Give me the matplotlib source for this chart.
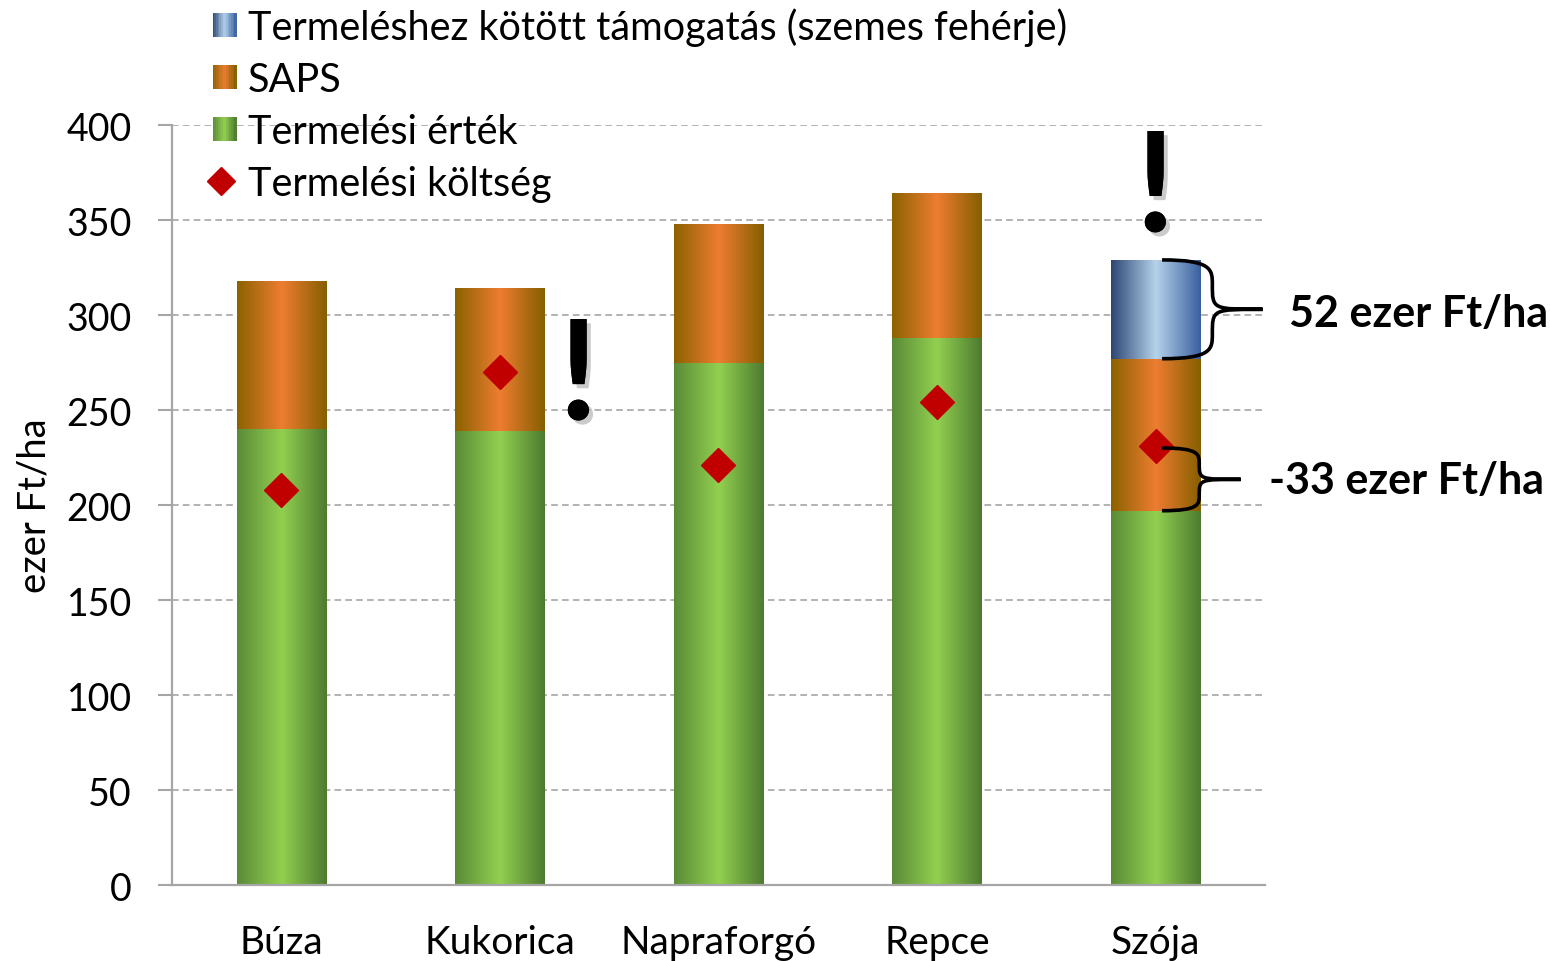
import matplotlib.pyplot as plt
import numpy as np
from matplotlib.colors import LinearSegmentedColormap
from matplotlib.patches import Rectangle, PathPatch
from matplotlib.path import Path
from matplotlib.legend_handler import HandlerBase
from matplotlib.lines import Line2D
import matplotlib.patheffects as pe

plt.rcParams['font.family'] = ['Lato', 'DejaVu Sans']

categories = ['Búza', 'Kukorica', 'Napraforgó', 'Repce', 'Szója']
termelesi_ertek = [240, 239, 275, 288, 197]
saps = [78, 75, 73, 76, 80]
kotott_tamogatas = [0, 0, 0, 0, 52]
termelesi_koltseg = [208, 270, 221, 254, 231]

label_blue = 'Termeléshez kötött támogatás (szemes fehérje)'
label_orange = 'SAPS'
label_green = 'Termelési érték'
label_cost = 'Termelési költség'

# gradient colours: edge, centre, edge
grad_green = ['#5a8a38', '#92d050', '#4d7a30']
grad_orange = ['#8c6200', '#ed7d31', '#855f00']
grad_blue = ['#2c4674', '#b5d2ea', '#3a5f9f']


def make_cmap(cols):
    return LinearSegmentedColormap.from_list('g', [(0, cols[0]), (0.5, cols[1]), (1, cols[2])])


def gradient_bar(ax, x, bottom, height, width, cols):
    if height <= 0:
        return
    rect = Rectangle((x - width / 2, bottom), width, height, facecolor='none', edgecolor='none')
    ax.add_patch(rect)
    grad = np.linspace(0, 1, 256).reshape(1, -1)
    im = ax.imshow(grad, cmap=make_cmap(cols), aspect='auto',
                   extent=(x - width / 2, x + width / 2, bottom, bottom + height),
                   interpolation='bicubic', zorder=2)
    im.set_clip_path(rect)


class GradHandler(HandlerBase):
    def __init__(self, cols):
        super().__init__()
        self.cols = cols

    def create_artists(self, legend, orig_handle, xdescent, ydescent, width, height, fontsize, trans):
        cmap = make_cmap(self.cols)
        size = height * 0.85
        x0 = width - size
        y0 = (height - size) / 2 - ydescent
        n = 14
        arts = []
        for i in range(n):
            r = Rectangle((x0 + i * size / n, y0), size / n + 0.3, size,
                          facecolor=cmap((i + 0.5) / n), edgecolor='none', transform=trans)
            arts.append(r)
        return arts


fig = plt.figure(figsize=(15.5, 9.62), dpi=100)
ax = fig.add_axes([0.111, 0.079, 0.705, 0.790])

x = np.arange(len(categories))
w = 0.41
ax.set_xlim(-0.5, len(categories) - 0.5)
ax.set_ylim(0, 400)

for i in range(len(categories)):
    gradient_bar(ax, x[i], 0, termelesi_ertek[i], w, grad_green)
    gradient_bar(ax, x[i], termelesi_ertek[i], saps[i], w, grad_orange)
    gradient_bar(ax, x[i], termelesi_ertek[i] + saps[i], kotott_tamogatas[i], w, grad_blue)

ax.plot(x, termelesi_koltseg, linestyle='none', marker='D', markersize=17,
        color='#c00000', zorder=5)

ax.set_yticks(np.arange(0, 401, 50))
ax.yaxis.grid(True, linestyle=(0, (4, 2.5)), color='#a6a6a6', linewidth=1.2)
ax.set_axisbelow(True)
ax.set_xticks(x)
ax.set_xticklabels(categories, fontsize=28)
ax.tick_params(axis='x', length=0, pad=28)
ax.tick_params(axis='y', labelsize=27, length=10, color='#a6a6a6', width=1.5, pad=19)
for s in ['top', 'right']:
    ax.spines[s].set_visible(False)
for s in ['left', 'bottom']:
    ax.spines[s].set_color('#a6a6a6')
    ax.spines[s].set_linewidth(1.6)
ax.set_ylabel('ezer Ft/ha', fontsize=27.5, labelpad=10)

# exclamation marks
shadow = [pe.withSimplePatchShadow(offset=(3, -3), shadow_rgbFace='#999999', alpha=0.5), pe.Normal()]
ax.text(x[1] + 0.36, 245, '!', fontsize=100, fontweight='bold', ha='center', va='baseline',
        zorder=6, path_effects=shadow)
ax.text(x[4], 344, '!', fontsize=100, fontweight='bold', ha='center', va='baseline',
        zorder=6, path_effects=shadow)


def brace(ax, x0, xm, xt, y_top, y_bot):
    ymid = (y_top + y_bot) / 2
    h = y_top - y_bot
    verts = [
        (x0, y_top),
        (xm, y_top), (xm, y_top - 0.1 * h), (xm, y_top - 0.25 * h),
        (xm, ymid), (xm, ymid), (xt, ymid),
        (xm, ymid), (xm, ymid), (xm, y_bot + 0.25 * h),
        (xm, y_bot + 0.1 * h), (xm, y_bot), (x0, y_bot),
    ]
    codes = [Path.MOVETO] + [Path.CURVE4] * 12
    p = PathPatch(Path(verts, codes), facecolor='none', edgecolor='black', lw=2.6,
                  zorder=6, clip_on=False)
    ax.add_patch(p)


top_blue = termelesi_ertek[4] + saps[4] + kotott_tamogatas[4]
bot_blue = termelesi_ertek[4] + saps[4]
brace(ax, x[4] + 0.03, x[4] + 0.26, x[4] + 0.49, top_blue, bot_blue)
brace(ax, x[4] + 0.03, x[4] + 0.20, x[4] + 0.39, termelesi_koltseg[4] - 1, termelesi_ertek[4])

ax.text(x[4] + 0.61, (top_blue + bot_blue) / 2 - 2, '52 ezer Ft/ha', fontsize=31,
        fontweight='bold', ha='left', va='center', clip_on=False)
ax.text(x[4] + 0.52, (termelesi_koltseg[4] + termelesi_ertek[4]) / 2 - 1, '-33 ezer Ft/ha',
        fontsize=31, fontweight='bold', ha='left', va='center', clip_on=False)

h_blue = Rectangle((0, 0), 1, 1)
h_orange = Rectangle((0, 0), 1, 1)
h_green = Rectangle((0, 0), 1, 1)
h_cost = Line2D([], [], linestyle='none', marker='D', markersize=14, color='#c00000')
fig.legend([h_blue, h_orange, h_green, h_cost],
           [label_blue, label_orange, label_green, label_cost],
           handler_map={h_blue: GradHandler(grad_blue), h_orange: GradHandler(grad_orange),
                        h_green: GradHandler(grad_green)},
           loc='upper left', bbox_to_anchor=(0.123, 1.008), frameon=False, fontsize=28.5,
           handlelength=0.75, handletextpad=0.3, labelspacing=0.38, borderaxespad=0)

fig.savefig('out.png', dpi=100)
